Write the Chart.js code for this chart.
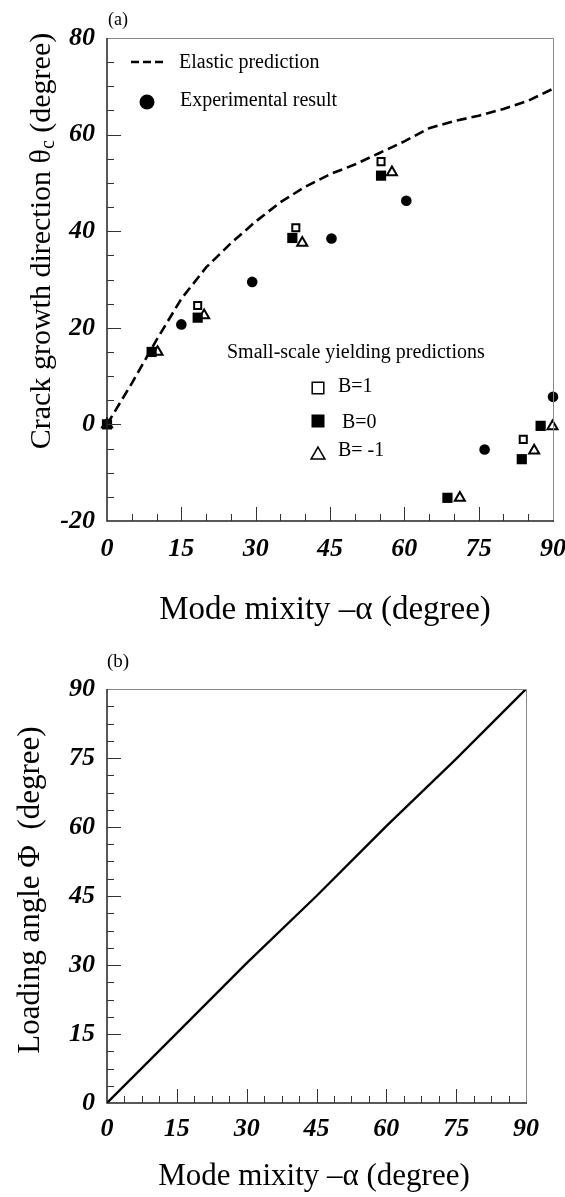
<!DOCTYPE html>
<html>
<head>
<meta charset="utf-8">
<script src="https://cdn.jsdelivr.net/npm/chart.js@4.4.0/dist/chart.umd.min.js"></script>
<style>
  body { margin: 0; background: #fff; }
  #wrapA { position: absolute; left: 0; top: 0; width: 565px; height: 640px; }
  #wrapB { position: absolute; left: 0; top: 640px; width: 565px; height: 557px; }
</style>
</head>
<body>
<div id="wrapA"><canvas id="chartA" width="565" height="640"></canvas></div>
<div id="wrapB"><canvas id="chartB" width="565" height="557"></canvas></div>
<script>
// (a) crack growth direction vs mode mixity
var elasticAlpha = [0, 5, 10, 15, 20, 25, 30, 35, 40, 45, 50, 55, 60, 65, 70, 75, 80, 85, 90];
var elasticTheta = [0, 8.5, 17.5, 26, 32.5, 37.5, 42, 46, 49.2, 51.8, 53.8, 56.2, 58.6, 61.3, 62.8, 63.9, 65.3, 67, 69.5];
var expAlpha = [15, 29.3, 45.3, 60.4, 76.2, 90];
var expTheta = [20.7, 29.5, 38.5, 46.3, -5.2, 5.7];
var b1Alpha = [0, 9, 18.3, 38.1, 55.3, 68.7, 84, 87.5];
var b1Theta = [0, 15, 24.6, 40.7, 54.4, -15.2, -3.1, -0.3];
var b0Alpha = [0, 9, 18.3, 37.4, 55.3, 68.7, 83.7, 87.5];
var b0Theta = [0, 15, 22.1, 38.6, 51.5, -15.2, -7.2, -0.3];
var bm1Alpha = [0, 10.2, 19.6, 39.4, 57.5, 71.2, 86.2, 89.9];
var bm1Theta = [0, 15, 22.6, 37.6, 52.2, -15.2, -5.4, -0.4];

// (b) loading angle vs mode mixity
var loadAlpha = [0, 15, 30, 45, 60, 75, 90];
var loadPhi = [0, 15.2, 30.4, 45, 60.2, 74.8, 90];

var xTicks = [0, 15, 30, 45, 60, 75, 90];
var yTicksA = [-20, 0, 20, 40, 60, 80];
var yTicksB = [0, 15, 30, 45, 60, 75, 90];

var SERIF = '"Liberation Serif", "Times New Roman", serif';

function pts(xs, ys) {
  var out = [];
  for (var i = 0; i < xs.length; i++) out.push({x: xs[i], y: ys[i]});
  return out;
}

function isMajor(v, major) {
  var q = v / major;
  return Math.abs(q - Math.round(q)) < 1e-6;
}

// chart.js adds room for the end labels, we want a fixed plot box
function noEdgePad(s) {
  s.paddingLeft = 0; s.paddingRight = 0; s.paddingTop = 0; s.paddingBottom = 0;
}

// inward tick marks + frame
var frameTicks = {
  id: 'frameTicks',
  afterDatasetsDraw: function(chart, args, opts) {
    var ctx = chart.ctx, ca = chart.chartArea;
    var xs = chart.scales.x, ys = chart.scales.y;
    ctx.save();
    ctx.strokeStyle = '#888';
    ctx.lineWidth = 1;
    ctx.beginPath();
    ctx.moveTo(ca.left, ca.top + 0.5);
    ctx.lineTo(ca.right + 0.5, ca.top + 0.5);
    ctx.lineTo(ca.right + 0.5, ca.bottom);
    ctx.stroke();
    ctx.strokeStyle = '#222';
    ctx.lineWidth = 1.5;
    ctx.beginPath();
    ctx.moveTo(ca.left, ca.top);
    ctx.lineTo(ca.left, ca.bottom);
    ctx.lineTo(ca.right + 1, ca.bottom);
    ctx.stroke();
    ctx.lineWidth = 1;
    ctx.strokeStyle = '#333';
    ctx.beginPath();
    var v, p, len;
    for (v = xs.min + opts.xMinor; v < xs.max - 1e-6; v += opts.xMinor) {
      p = Math.round(xs.getPixelForValue(v)) + 0.5;
      len = isMajor(v, opts.xMajor) ? 14 : 7;
      ctx.moveTo(p, ca.bottom);
      ctx.lineTo(p, ca.bottom - len);
    }
    for (v = ys.min + opts.yMinor; v < ys.max - 1e-6; v += opts.yMinor) {
      p = Math.round(ys.getPixelForValue(v)) + 0.5;
      len = isMajor(v - ys.min, opts.yMajor) ? 14 : 7;
      ctx.moveTo(ca.left, p);
      ctx.lineTo(ca.left + len, p);
    }
    ctx.stroke();
    ctx.restore();
  }
};

// free texts: panel letter, axis titles, legend
var labelsA = {
  id: 'labelsA',
  afterDraw: function(chart) {
    var ctx = chart.ctx;
    ctx.save();
    ctx.fillStyle = '#000';
    ctx.textBaseline = 'middle';
    ctx.textAlign = 'left';
    ctx.font = '18px ' + SERIF;
    ctx.fillText('(a)', 108, 20);

    // x title
    ctx.textAlign = 'center';
    ctx.font = '33px ' + SERIF;
    ctx.fillText('Mode mixity \u2013\u03b1 (degree)', 325, 610);

    // y title with subscript
    ctx.save();
    ctx.translate(42, 241);
    ctx.rotate(-Math.PI / 2);
    var t1 = 'Crack growth direction \u03b8', t2 = 'c', t3 = ' (degree)';
    ctx.font = '30px ' + SERIF;
    var w1 = ctx.measureText(t1).width, w3 = ctx.measureText(t3).width;
    ctx.font = '20px ' + SERIF;
    var w2 = ctx.measureText(t2).width;
    var x0 = -(w1 + w2 + w3) / 2;
    ctx.textAlign = 'left';
    ctx.font = '30px ' + SERIF;
    ctx.fillText(t1, x0, 0);
    ctx.font = '20px ' + SERIF;
    ctx.fillText(t2, x0 + w1, 7);
    ctx.font = '30px ' + SERIF;
    ctx.fillText(t3, x0 + w1 + w2, 0);
    ctx.restore();

    // legend: elastic + experimental
    ctx.font = '20px ' + SERIF;
    ctx.textAlign = 'left';
    ctx.strokeStyle = '#000';
    ctx.lineWidth = 2.5;
    ctx.setLineDash([8, 4]);
    ctx.beginPath();
    ctx.moveTo(131, 62);
    ctx.lineTo(166, 62);
    ctx.stroke();
    ctx.setLineDash([]);
    ctx.fillText('Elastic prediction', 179, 63);
    ctx.fillStyle = '#000';
    Chart.helpers.drawPoint(ctx, {pointStyle: 'circle', radius: 7.5, borderWidth: 0}, 147, 102);
    ctx.fillText('Experimental result', 180, 101);

    // legend: small-scale yielding predictions
    ctx.fillText('Small-scale yielding predictions', 227, 353);
    ctx.lineWidth = 1.5;
    ctx.fillStyle = '#fff';
    Chart.helpers.drawPoint(ctx, {pointStyle: 'rect', radius: 8.2, borderWidth: 1.5}, 318, 388);
    ctx.fillStyle = '#000';
    Chart.helpers.drawPoint(ctx, {pointStyle: 'rect', radius: 9.2, borderWidth: 0}, 318, 421);
    ctx.fillStyle = '#fff';
    Chart.helpers.drawPoint(ctx, {pointStyle: 'triangle', radius: 8, borderWidth: 1.5}, 318, 455);
    ctx.fillStyle = '#000';
    ctx.fillText('B=1', 338, 387);
    ctx.fillText('B=0', 342, 423);
    ctx.fillText('B= -1', 338, 451);
    ctx.restore();
  }
};

var labelsB = {
  id: 'labelsB',
  afterDraw: function(chart) {
    var ctx = chart.ctx;
    ctx.save();
    ctx.fillStyle = '#000';
    ctx.textBaseline = 'middle';
    ctx.textAlign = 'left';
    ctx.font = '19px ' + SERIF;
    ctx.fillText('(b)', 107, 22);
    ctx.textAlign = 'center';
    ctx.font = '31px ' + SERIF;
    ctx.fillText('Mode mixity \u2013\u03b1 (degree)', 314, 537);
    ctx.save();
    ctx.translate(31, 250);
    ctx.rotate(-Math.PI / 2);
    ctx.font = '31px ' + SERIF;
    ctx.fillText('Loading angle \u03a6  (degree)', 0, 0);
    ctx.restore();
    ctx.restore();
  }
};

function tickFont() {
  return {family: SERIF, size: 26, weight: 'bold', style: 'italic'};
}

var chartA = new Chart(document.getElementById('chartA').getContext('2d'), {
  type: 'scatter',
  data: {
    datasets: [
      {label: 'Experimental result', data: pts(expAlpha, expTheta), pointStyle: 'circle', pointRadius: 5.3,
       backgroundColor: '#000', borderColor: '#000', borderWidth: 0, clip: false},
      {label: 'B=0', data: pts(b0Alpha, b0Theta), pointStyle: 'rect', pointRadius: 7.2,
       backgroundColor: '#000', borderColor: '#000', borderWidth: 0, clip: false},
      {label: 'B=1', data: pts(b1Alpha, b1Theta), pointStyle: 'rect', pointRadius: 5,
       backgroundColor: '#fff', borderColor: '#000', borderWidth: 2, clip: false},
      {label: 'B= -1', data: pts(bm1Alpha, bm1Theta), pointStyle: 'triangle', pointRadius: 5.8,
       backgroundColor: '#fff', borderColor: '#000', borderWidth: 2, clip: false},
      {label: 'Elastic prediction', type: 'line', data: pts(elasticAlpha, elasticTheta), showLine: true,
       borderColor: '#000', borderWidth: 2.6, borderDash: [10, 5], pointRadius: 0, fill: false, tension: 0}
    ]
  },
  options: {
    responsive: false,
    animation: false,
    events: [],
    layout: {padding: {top: 38, right: 12, left: 0, bottom: 0}},
    plugins: {
      legend: {display: false},
      tooltip: {enabled: false},
      frameTicks: {xMinor: 5, xMajor: 15, yMinor: 5, yMajor: 20}
    },
    scales: {
      x: {
        type: 'linear', min: 0, max: 90,
        afterBuildTicks: function(s) { s.ticks = xTicks.map(function(v) { return {value: v}; }); },
        ticks: {color: '#000', font: tickFont(), padding: 13, maxRotation: 0, autoSkip: false},
        grid: {display: false, drawTicks: false},
        border: {display: false},
        afterFit: function(s) { s.height = 119; noEdgePad(s); }
      },
      y: {
        type: 'linear', min: -20, max: 80,
        afterBuildTicks: function(s) { s.ticks = yTicksA.map(function(v) { return {value: v}; }); },
        ticks: {color: '#000', font: tickFont(), padding: 12, autoSkip: false},
        grid: {display: false, drawTicks: false},
        border: {display: false},
        afterFit: function(s) { s.width = 107; noEdgePad(s); }
      }
    }
  },
  plugins: [frameTicks, labelsA]
});

var chartB = new Chart(document.getElementById('chartB').getContext('2d'), {
  type: 'scatter',
  data: {
    datasets: [
      {label: 'Loading angle', type: 'line', data: pts(loadAlpha, loadPhi), showLine: true,
       borderColor: '#000', borderWidth: 2.3, pointRadius: 0, fill: false, tension: 0}
    ]
  },
  options: {
    responsive: false,
    animation: false,
    events: [],
    layout: {padding: {top: 49, right: 39, left: 0, bottom: 0}},
    plugins: {
      legend: {display: false},
      tooltip: {enabled: false},
      frameTicks: {xMinor: 3.75, xMajor: 15, yMinor: 3.75, yMajor: 15}
    },
    scales: {
      x: {
        type: 'linear', min: 0, max: 90,
        afterBuildTicks: function(s) { s.ticks = xTicks.map(function(v) { return {value: v}; }); },
        ticks: {color: '#000', font: tickFont(), padding: 11, maxRotation: 0, autoSkip: false},
        grid: {display: false, drawTicks: false},
        border: {display: false},
        afterFit: function(s) { s.height = 94; noEdgePad(s); }
      },
      y: {
        type: 'linear', min: 0, max: 90,
        afterBuildTicks: function(s) { s.ticks = yTicksB.map(function(v) { return {value: v}; }); },
        ticks: {color: '#000', font: tickFont(), padding: 12, autoSkip: false},
        grid: {display: false, drawTicks: false},
        border: {display: false},
        afterFit: function(s) { s.width = 107; noEdgePad(s); }
      }
    }
  },
  plugins: [frameTicks, labelsB]
});
</script>
</body>
</html>
